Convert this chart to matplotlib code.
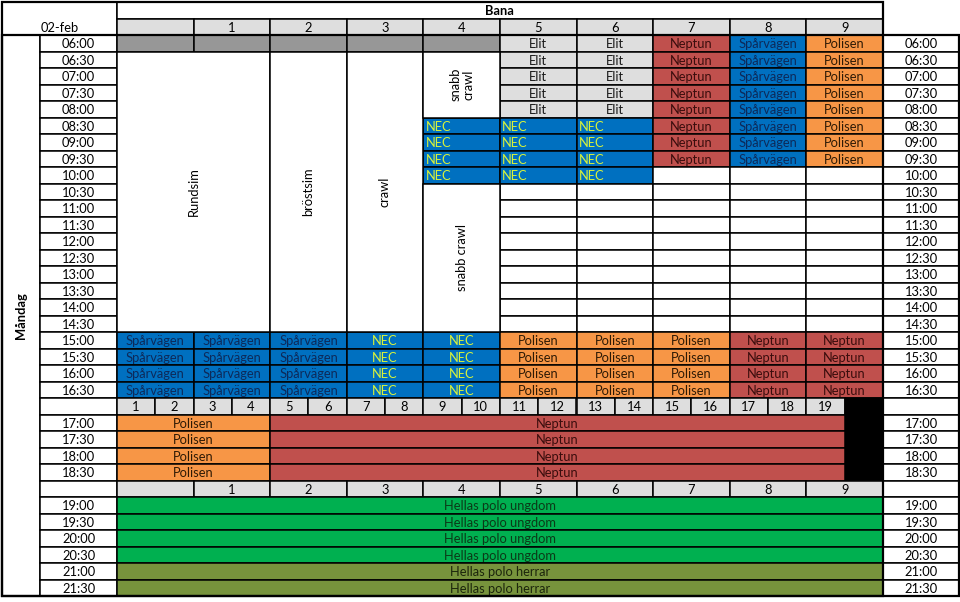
import matplotlib
matplotlib.use("Agg")
import matplotlib.pyplot as plt

plt.rcParams['font.family'] = ['Lato', 'DejaVu Sans']

# --- data ---------------------------------------------------------------
day = 'Måndag'
date = '02-feb'
title = 'Bana'
lanes = ['', '1', '2', '3', '4', '5', '6', '7', '8', '9']
sub_lanes = [str(i) for i in range(1, 20)]

times_day = ['06:00', '06:30', '07:00', '07:30', '08:00', '08:30', '09:00', '09:30',
             '10:00', '10:30', '11:00', '11:30', '12:00', '12:30', '13:00', '13:30',
             '14:00', '14:30', '15:00', '15:30', '16:00', '16:30']
times_sub = ['17:00', '17:30', '18:00', '18:30']
times_eve = ['19:00', '19:30', '20:00', '20:30', '21:00', '21:30']

# one list of 10 lanes per half hour; None = part of a merged technique block, '#' = closed
M = None
day_grid = (
    [['#', '#', '#', '#', '#', 'Elit', 'Elit', 'Neptun', 'Spårvägen', 'Polisen']]
    + [[M, M, M, M, M, 'Elit', 'Elit', 'Neptun', 'Spårvägen', 'Polisen']] * 4
    + [[M, M, M, M, 'NEC', 'NEC', 'NEC', 'Neptun', 'Spårvägen', 'Polisen']] * 3
    + [[M, M, M, M, 'NEC', 'NEC', 'NEC', '', '', '']]
    + [[M, M, M, M, M, '', '', '', '', '']] * 9
    + [['Spårvägen'] * 3 + ['NEC'] * 2 + ['Polisen'] * 3 + ['Neptun'] * 2] * 4
)

# merged blocks: label, first lane, last lane, first time, last time
technique_blocks = [
    ('Rundsim', 0, 1, '06:30', '14:30'),
    ('bröstsim', 2, 2, '06:30', '14:30'),
    ('crawl', 3, 3, '06:30', '14:30'),
    ('snabb\ncrawl', 4, 4, '06:30', '08:00'),
    ('snabb crawl', 4, 4, '10:30', '14:30'),
]

# 17:00-18:30 on half lanes: (club, number of sub lanes)
sub_clubs = ['Polisen', 'Neptun']
sub_counts = [4, 15]

eve_clubs = ['Hellas polo ungdom'] * 4 + ['Hellas polo herrar'] * 2

# --- styles -------------------------------------------------------------
fills = {'#': '#979797', 'Elit': '#dedede', 'Neptun': '#c0504d', 'Spårvägen': '#0070c0',
         'Polisen': '#f79646', 'NEC': '#0070c0', '': 'white',
         'Hellas polo ungdom': '#00b050', 'Hellas polo herrar': '#77933c'}
inks = {'Elit': '#1a1a1a', 'Neptun': '#3a0d0d', 'Spårvägen': '#0d2a5a',
        'Polisen': '#2e1a05', 'NEC': '#d8f23a',
        'Hellas polo ungdom': '#0b3a18', 'Hellas polo herrar': '#1c250c'}
head_fill = '#dedede'
FS = 9.3
LW = 1.1

fig = plt.figure(figsize=(9.6, 6.02), dpi=100)
ax = fig.add_axes([0, 0, 1, 1])
ax.axis('off')
lane_px = 76.6
row_px = 16.5
x0 = -1.5 - 2 / lane_px
y0 = -2 / row_px
ax.set_xlim(x0, x0 + 960 / lane_px)
ax.set_ylim(y0 + 602 / row_px, y0)


def cell(x, w, y, h, color='white', text=None, ink='black', ha='center', **kw):
    ax.bar(x, h, width=w, bottom=y, align='edge', color=color,
           edgecolor='black', linewidth=LW, zorder=2)
    if text:
        tx = x + w / 2 if ha == 'center' else x + 0.03
        ax.text(tx, y + h / 2 + 0.05, text, ha=ha, va='center', fontsize=FS,
                color=ink, zorder=3, **kw)


L_DAY, L_TIME, R_TIME = -1.5, -1.0, 10.0
n_rows = 2 + len(times_day) + 1 + len(times_sub) + 1 + len(times_eve)

# header
cell(L_DAY, 1.5, 0, 2)
ax.text(L_DAY + 0.75, 1.55, date, ha='center', va='center', fontsize=FS, zorder=3)
cell(0, len(lanes), 0, 1, text=title, fontweight='bold')
for i, lab in enumerate(lanes):
    cell(i, 1, 1, 1, color=head_fill, text=lab)

# day column
cell(L_DAY, 0.5, 2, n_rows - 2)
ax.text(L_DAY + 0.25, 2 + (n_rows - 2) / 2, day, rotation=90, ha='center', va='center',
        fontsize=FS, fontweight='bold', zorder=3)


def time_cells(row, label):
    cell(L_TIME, 1, row, 1, text=label)
    cell(R_TIME, 1, row, 1, text=label)


row = 2
for t, lane_row in zip(times_day, day_grid):
    time_cells(row, t)
    morning = times_day.index(t) < times_day.index('15:00')
    for i, club in enumerate(lane_row):
        if club is None:
            continue
        if club == 'NEC' and morning:
            cell(i, 1, row, 1, fills[club], club, inks[club], ha='left')
        else:
            cell(i, 1, row, 1, fills[club], club if club != '#' else None, inks.get(club, 'black'))
    row += 1

for lab, a, b, t1, t2 in technique_blocks:
    r1 = 2 + times_day.index(t1)
    r2 = 2 + times_day.index(t2) + 1
    cell(a, b - a + 1, r1, r2 - r1)
    ax.text((a + b + 1) / 2, (r1 + r2) / 2, lab, rotation=90, ha='center', va='center',
            fontsize=FS, zorder=3, linespacing=1.1)

# half-lane header
time_cells(row, '')
for i, lab in enumerate(sub_lanes):
    cell(i * 0.5, 0.5, row, 1, head_fill, lab)
sub_end = len(sub_lanes) * 0.5
cell(sub_end, len(lanes) - sub_end, row, 1 + len(times_sub), color='black')
row += 1

for t in times_sub:
    time_cells(row, t)
    start = 0
    for club, n in zip(sub_clubs, sub_counts):
        cell(start * 0.5, n * 0.5, row, 1, fills[club], club, inks[club])
        start += n
    row += 1

# lane header again
time_cells(row, '')
for i, lab in enumerate(lanes):
    cell(i, 1, row, 1, head_fill, lab)
row += 1

for t, club in zip(times_eve, eve_clubs):
    time_cells(row, t)
    cell(0, len(lanes), row, 1, fills[club], club, inks[club])
    row += 1

# outer frame
ax.bar(L_DAY, n_rows, width=12.5 - 1.0, bottom=0, align='edge', fill=False,
       edgecolor='black', linewidth=1.6, zorder=4)
ax.bar(L_DAY, n_rows - 2, width=12.5, bottom=2, align='edge', fill=False,
       edgecolor='black', linewidth=1.6, zorder=4)

fig.savefig('out.png', dpi=100)
